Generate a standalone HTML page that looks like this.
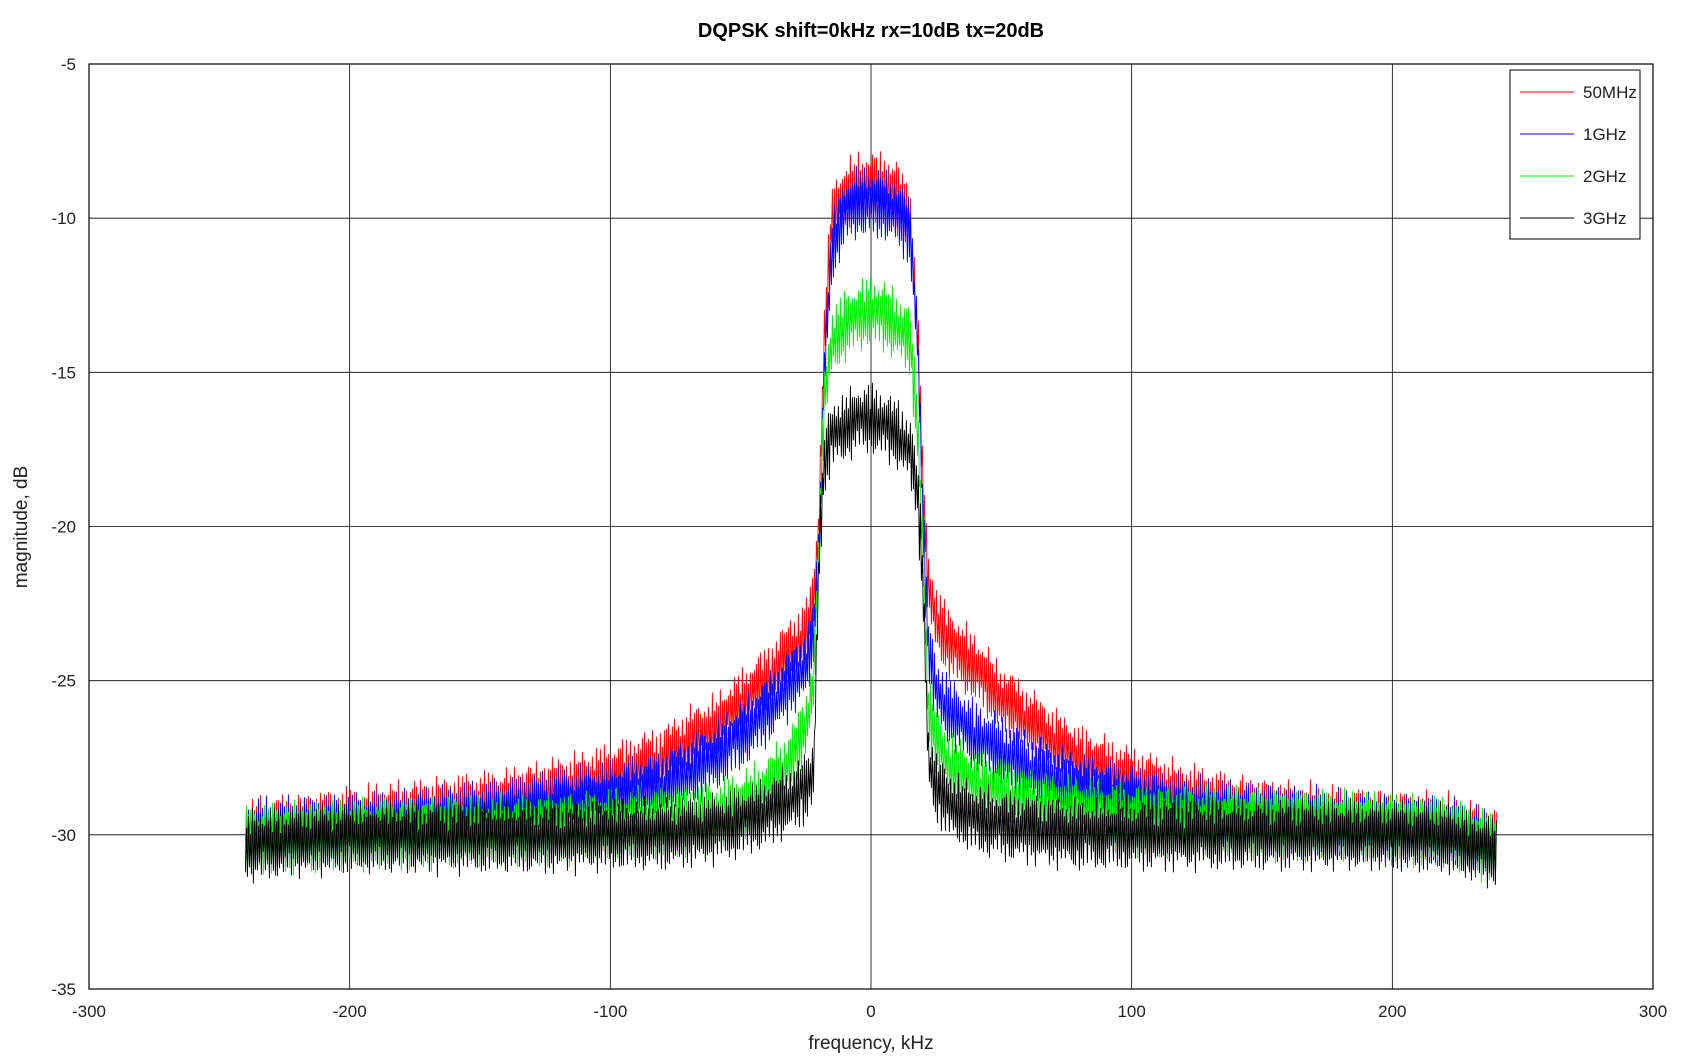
<!DOCTYPE html>
<html><head><meta charset="utf-8"><style>
html,body{margin:0;padding:0;background:#fff;}
svg{display:block;font-family:"Liberation Sans",sans-serif;}
</style></head><body>
<svg id="chart" width="1690" height="1056" viewBox="0 0 1690 1056">
<text x="871" y="37" text-anchor="middle" font-size="20" font-weight="bold">DQPSK shift=0kHz rx=10dB tx=20dB</text>
<g id="grid"></g>
<g id="series"></g>
<rect x="89" y="64" width="1564" height="925" fill="none" stroke="#000" stroke-width="1.2"/>
<g id="ticks"></g>
<text x="871" y="1049" text-anchor="middle" font-size="19" fill="#222">frequency, kHz</text>
<text transform="translate(27,527) rotate(-90)" text-anchor="middle" font-size="19" fill="#222">magnitude, dB</text>
<g id="legend"></g>
</svg>
<script>
const freqs=[-240,-220,-200,-180,-160,-140,-120,-100,-80,-70,-60,-50,-40,-30,-25,-22,-20,-18,-15,-10,-5,0,5,10,15,18,20,22,25,30,40,50,60,70,80,100,120,140,160,180,200,220,240];
const red=[-30,-29.8,-29.6,-29.4,-29.2,-29,-28.6,-28.2,-27.6,-27,-26.6,-25.8,-25,-24,-23.5,-22.5,-20,-14,-10,-9.3,-9,-9,-9,-9.3,-10,-14,-19,-22,-23,-23.8,-24.6,-25.6,-26.3,-27,-27.6,-28.3,-28.8,-29.2,-29.4,-29.6,-29.7,-29.8,-30.3];
const blue=[-30,-29.9,-29.8,-29.7,-29.5,-29.3,-29,-28.8,-28.4,-28,-27.5,-26.8,-26,-25,-24.5,-23.5,-21,-15,-11,-9.8,-9.5,-9.5,-9.6,-9.8,-10.5,-14,-20,-24,-25.3,-26,-26.8,-27.3,-27.8,-28.2,-28.5,-28.9,-29.2,-29.4,-29.5,-29.7,-29.8,-29.9,-30.4];
const green=[-30.2,-30.1,-30,-30,-29.9,-29.9,-29.8,-29.7,-29.6,-29.5,-29.4,-29.1,-28.6,-27.5,-26.5,-25,-21,-16,-14,-13.5,-13.2,-13,-13.2,-13.5,-14,-17,-21,-26,-27,-27.8,-28.4,-28.7,-29,-29.2,-29.3,-29.5,-29.6,-29.6,-29.7,-29.7,-29.8,-29.9,-30.5];
const black=[-30.4,-30.2,-30.1,-30.1,-30.1,-30.1,-30.1,-30,-30,-29.9,-29.8,-29.6,-29.3,-28.8,-28.5,-28,-21,-18,-17,-16.8,-16.5,-16.5,-16.7,-17,-17.5,-19,-22,-27.5,-28.5,-29,-29.5,-29.7,-29.8,-29.9,-30,-30,-30,-30,-30,-30,-30,-30.1,-30.6];
const seriesNames=["50MHz","1GHz","2GHz","3GHz"];
const seriesColors=["#ff0000","#0000ff","#00ee00","#000000"];
const xTicks=[-300,-200,-100,0,100,200,300];
const yTicks=[-5,-10,-15,-20,-25,-30,-35];
const NS="http://www.w3.org/2000/svg";
const X=v=>89+(v+300)*1564/600;
const Y=v=>64+(-5-v)*925/30;
const grid=document.getElementById('grid'),ticks=document.getElementById('ticks');
xTicks.forEach(t=>{
 const l=document.createElementNS(NS,'line');
 l.setAttribute('x1',X(t));l.setAttribute('x2',X(t));l.setAttribute('y1',64);l.setAttribute('y2',989);
 l.setAttribute('stroke','#000');l.setAttribute('stroke-width','0.8');
 
 
 grid.appendChild(l);
 const tx=document.createElementNS(NS,'text');
 tx.setAttribute('x',X(t));tx.setAttribute('y',1017);tx.setAttribute('text-anchor','middle');tx.setAttribute('font-size','17');tx.setAttribute('fill','#222');
 tx.textContent=t;
 
 
 ticks.appendChild(tx);
});
yTicks.forEach(t=>{
 const l=document.createElementNS(NS,'line');
 l.setAttribute('x1',89);l.setAttribute('x2',1653);l.setAttribute('y1',Y(t));l.setAttribute('y2',Y(t));
 l.setAttribute('stroke','#000');l.setAttribute('stroke-width','0.8');
 
 
 grid.appendChild(l);
 const tx=document.createElementNS(NS,'text');
 tx.setAttribute('x',76);tx.setAttribute('y',Y(t)+6);tx.setAttribute('text-anchor','end');tx.setAttribute('font-size','17');tx.setAttribute('fill','#222');
 tx.textContent=t;
 
 
 ticks.appendChild(tx);
});
function interp(arr,f){
 for(let i=0;i<freqs.length-1;i++){if(f<=freqs[i+1]){const a=(f-freqs[i])/(freqs[i+1]-freqs[i]);return arr[i]+(arr[i+1]-arr[i])*a;}}
 return arr[arr.length-1];
}
const sg=document.getElementById('series');
[red,blue,green,black].forEach((arr,si)=>{
 let d='';const x0=X(-240),x1=X(240);let k=0;
 for(let px=x0;px<=x1;px+=1.0,k++){
  const f=(px-89)*600/1564-300;
  const m=Math.abs(Math.sin(k*0.73+si*1.9))*0.6+Math.abs(Math.sin(k*0.137+si*2.3))*Math.abs(Math.cos(k*0.41+si))*0.5;
  const tex=(k%2?1:-1)*(0.2+m);
  d+=(d?'L':'M')+px.toFixed(1)+','+Y(interp(arr,f)+tex).toFixed(1);
 }
 const p=document.createElementNS(NS,'path');
 p.setAttribute('d',d);p.setAttribute('fill','none');p.setAttribute('stroke',seriesColors[si]);p.setAttribute('stroke-width','0.9');
 
 
 sg.appendChild(p);
});
const lg=document.getElementById('legend');
const box=document.createElementNS(NS,'rect');
box.setAttribute('x',1510);box.setAttribute('y',70);box.setAttribute('width',130);box.setAttribute('height',169);
box.setAttribute('fill','#fff');box.setAttribute('stroke','#000');


lg.appendChild(box);
seriesNames.forEach((n,i)=>{
 const y=92+i*42;
 const l=document.createElementNS(NS,'line');
 l.setAttribute('x1',1520);l.setAttribute('x2',1574);l.setAttribute('y1',y);l.setAttribute('y2',y);l.setAttribute('stroke',seriesColors[i]);
 
 
 lg.appendChild(l);
 const t=document.createElementNS(NS,'text');
 t.setAttribute('x',1583);t.setAttribute('y',y+6);t.setAttribute('font-size','17');t.setAttribute('fill','#222');
 t.textContent=n;
 
 
 lg.appendChild(t);
});
</script>
</body></html>
